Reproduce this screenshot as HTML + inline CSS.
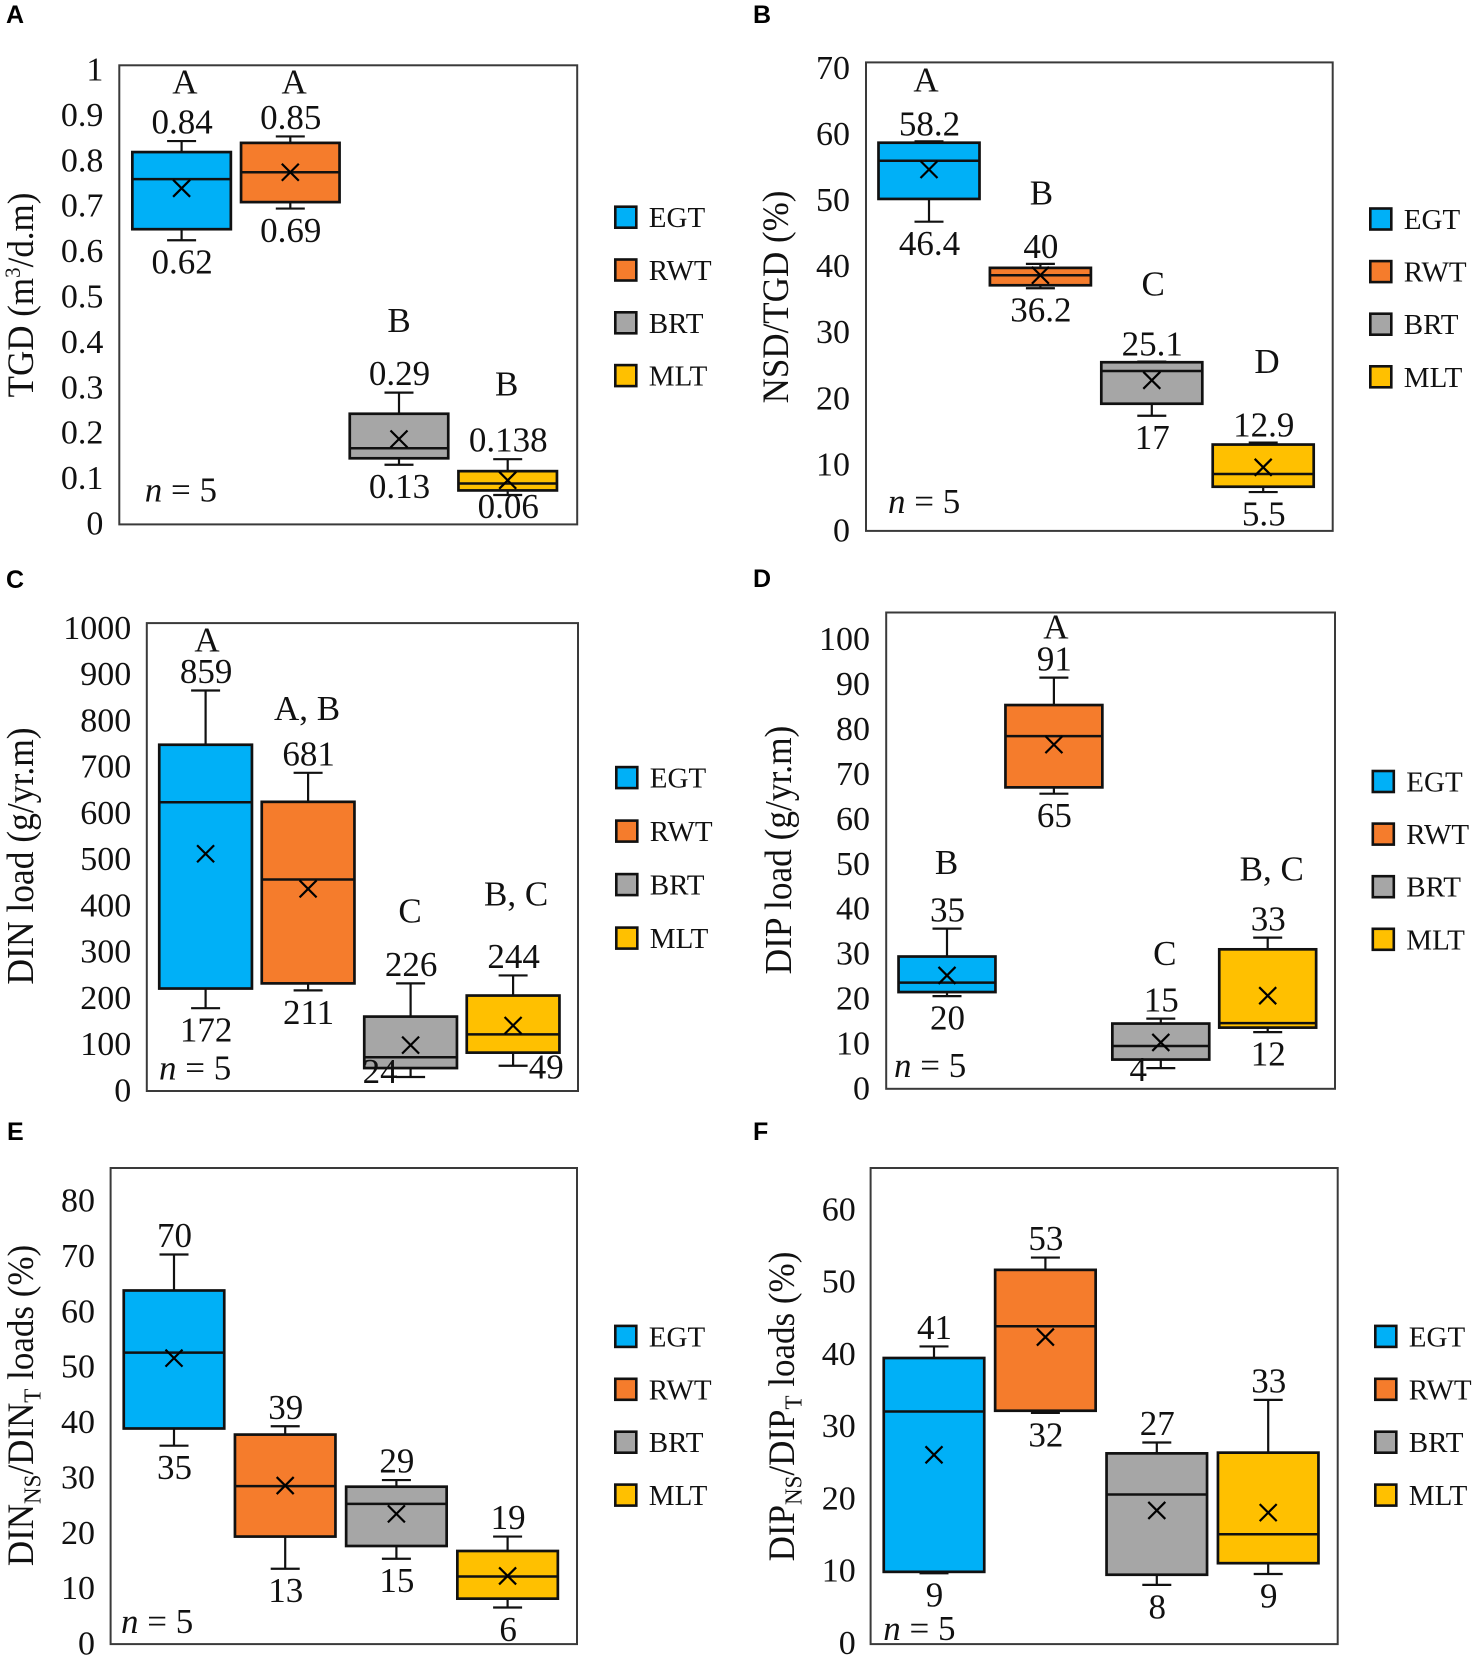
<!DOCTYPE html>
<html lang="en">
<head>
<meta charset="utf-8">
<title>Box plots of TGD, NSD/TGD, DIN and DIP loads</title>
<style>
html,body{margin:0;padding:0;background:#fff;width:1476px;height:1661px;overflow:hidden}
svg{display:block}
text{font-family:"Liberation Serif",serif;fill:#111}
.panel-letter{font-family:"Liberation Sans",sans-serif;font-weight:700;font-size:25px;fill:#000}
</style>
</head>
<body>
<svg id="figure" width="1476" height="1661" viewBox="0 0 1476 1661" xmlns="http://www.w3.org/2000/svg">
  <rect x="0" y="0" width="1476" height="1661" fill="#fff"/>
  <g id="panel-a">
    <text class="panel-letter" x="6" y="23">A</text>
    <text transform="translate(33,295) rotate(-90) scale(1,1.07)" text-anchor="middle" font-size="35">TGD (m<tspan font-size="21" dy="-12">3</tspan><tspan dy="12">/d.m)</tspan></text>
  </g>
  <g id="panel-b">
    <text class="panel-letter" x="753" y="23">B</text>
    <text transform="translate(788,297) rotate(-90) scale(1,1.07)" text-anchor="middle" font-size="35">NSD/TGD (%)</text>
  </g>
  <g id="panel-c">
    <text class="panel-letter" x="6" y="588">C</text>
    <text transform="translate(33,856) rotate(-90) scale(1,1.07)" text-anchor="middle" font-size="35.5">DIN load (g/yr.m)</text>
  </g>
  <g id="panel-d">
    <text class="panel-letter" x="753" y="587">D</text>
    <text transform="translate(791,850) rotate(-90) scale(1,1.07)" text-anchor="middle" font-size="35.3">DIP load (g/yr.m)</text>
  </g>
  <g id="panel-e">
    <text class="panel-letter" x="7" y="1140">E</text>
    <text transform="translate(33,1405.5) rotate(-90) scale(1,1.07)" text-anchor="middle" font-size="35">DIN<tspan font-size="23" dy="7">NS</tspan><tspan dy="-7">/DIN</tspan><tspan font-size="23" dy="7">T</tspan><tspan dy="-7"> loads (%)</tspan></text>
  </g>
  <g id="panel-f">
    <text class="panel-letter" x="753" y="1140">F</text>
    <text transform="translate(794,1406.5) rotate(-90) scale(1,1.07)" text-anchor="middle" font-size="35">DIP<tspan font-size="23" dy="7">NS</tspan><tspan dy="-7">/DIP</tspan><tspan font-size="23" dy="7">T</tspan><tspan dy="-7"> loads (%)</tspan></text>
  </g>
</svg>
<script>
const categories = ['EGT', 'RWT', 'BRT', 'MLT'];

// Panel A: TGD
const aTicks = ['0', '0.1', '0.2', '0.3', '0.4', '0.5', '0.6', '0.7', '0.8', '0.9', '1'];
const aTickValues = [0, 0.1, 0.2, 0.3, 0.4, 0.5, 0.6, 0.7, 0.8, 0.9, 1];
const aHigh = [0.835, 0.845, 0.287, 0.142];
const aQ3 = [0.811, 0.831, 0.241, 0.116];
const aMedian = [0.752, 0.767, 0.166, 0.089];
const aMean = [0.732, 0.767, 0.186, 0.096];
const aQ1 = [0.643, 0.702, 0.144, 0.074];
const aLow = [0.619, 0.688, 0.130, 0.064];
const aHighLabels = ['0.84', '0.85', '0.29', '0.138'];
const aLowLabels = ['0.62', '0.69', '0.13', '0.06'];
const aLetters = ['A', 'A', 'B', 'B'];
const aLetterLevels = [0.963, 0.963, 0.443, 0.305];

// Panel B: NSD/TGD
const bTicks = ['0', '10', '20', '30', '40', '50', '60', '70'];
const bTickValues = [0, 10, 20, 30, 40, 50, 60, 70];
const bHigh = [58.2, 39.9, 25.3, 13.2];
const bQ3 = [58.0, 39.3, 25.2, 12.9];
const bMedian = [55.3, 38.2, 23.9, 8.5];
const bMean = [54.0, 38.2, 22.5, 9.5];
const bQ1 = [49.6, 36.7, 19.0, 6.6];
const bLow = [46.2, 36.25, 17.2, 5.8];
const bHighLabels = ['58.2', '40', '25.1', '12.9'];
const bLowLabels = ['46.4', '36.2', '17', '5.5'];
const bLetters = ['A', 'B', 'C', 'D'];
const bLetterLevels = [67.3, 50.4, 36.8, 25.2];

// Panel C: DIN load
const cTicks = ['0', '100', '200', '300', '400', '500', '600', '700', '800', '900', '1000'];
const cTickValues = [0, 100, 200, 300, 400, 500, 600, 700, 800, 900, 1000];
const cHigh = [856, 680, 230, 247];
const cQ3 = [740, 618, 159, 204];
const cMedian = [617, 452, 72, 121];
const cMean = [507, 432, 98, 140];
const cQ1 = [219, 230, 49, 82];
const cLow = [177, 215, 30, 54];
const cHighLabels = ['859', '681', '226', '244'];
const cLowLabels = ['172', '211', '24', '49'];
const cLetters = ['A', 'A, B', 'C', 'B, C'];
const cLetterLevels = [963, 816, 384, 420];

// Panel D: DIP load
const dTicks = ['0', '10', '20', '30', '40', '50', '60', '70', '80', '90', '100'];
const dTickValues = [0, 10, 20, 30, 40, 50, 60, 70, 80, 90, 100];
const dHigh = [35.6, 91.4, 15.6, 33.6];
const dQ3 = [29.4, 85.3, 14.5, 31.0];
const dMedian = [23.6, 78.4, 9.5, 14.6];
const dMean = [25.2, 76.5, 10.3, 20.7];
const dQ1 = [21.5, 67.0, 6.5, 13.6];
const dLow = [20.6, 65.6, 4.6, 12.6];
const dHighLabels = ['35', '91', '15', '33'];
const dLowLabels = ['20', '65', '4', '12'];
const dLetters = ['B', 'A', 'C', 'B, C'];
const dLetterLevels = [50.2, 102.5, 30, 48.7];

// Panel E: DIN NS / DIN T loads
const eTicks = ['0', '10', '20', '30', '40', '50', '60', '70', '80'];
const eTickValues = [0, 10, 20, 30, 40, 50, 60, 70, 80];
const eHigh = [70.3, 39.3, 29.6, 19.4];
const eQ3 = [63.8, 37.8, 28.4, 16.8];
const eMedian = [52.6, 28.5, 25.3, 12.2];
const eMean = [51.6, 28.6, 23.5, 12.3];
const eQ1 = [38.9, 19.4, 17.7, 8.2];
const eLow = [35.8, 13.6, 15.4, 6.6];
const eHighLabels = ['70', '39', '29', '19'];
const eLowLabels = ['35', '13', '15', '6'];
const eLetters = [];
const eLetterLevels = [];

// Panel F: DIP NS / DIP T loads
const fTicks = ['0', '10', '20', '30', '40', '50', '60'];
const fTickValues = [0, 10, 20, 30, 40, 50, 60];
const fHigh = [41.2, 53.5, 27.9, 33.8];
const fQ3 = [39.6, 51.8, 26.4, 26.5];
const fMedian = [32.2, 44.0, 20.7, 15.2];
const fMean = [26.2, 42.5, 18.5, 18.2];
const fQ1 = [10.0, 32.3, 9.6, 11.2];
const fLow = [9.8, 32.0, 8.2, 9.7];
const fHighLabels = ['41', '53', '27', '33'];
const fLowLabels = ['9', '32', '8', '9'];
const fLetters = [];
const fLetterLevels = [];

const fills = {EGT: '#00B0F7', RWT: '#F57C2C', BRT: '#A6A6A6', MLT: '#FFC000'};
const NS = 'http://www.w3.org/2000/svg';
const INK = '#111111';

function shape(tag, parent, props) {
  const el = document.createElementNS(NS, tag);
  for (const k in props) el.setAttribute(k, props[k]);
  parent.appendChild(el);
  return el;
}

function drawPanel(p) {
  const root = document.getElementById('panel-' + p.id);
  const yScale = v => p.bottom - (v / p.yMax) * (p.bottom - p.top);
  const xScale = i => p.firstCenter + i * p.step;
  const tickMax = p.tickValues[p.tickValues.length - 1];
  const tickY = v => p.tickY0 - (v / tickMax) * (p.tickY0 - p.tickYTop);

  const frame = shape('rect', root, {x: p.left, y: p.top, width: p.right - p.left, height: p.bottom - p.top, fill: '#fff', stroke: '#3a3a3a', 'stroke-width': 2});
  
  

  p.tickValues.forEach((v, i) => {
    const t = shape('text', root, {x: p.tickRight, y: tickY(v) + 11, 'text-anchor': 'end', 'font-size': 34});
    t.textContent = p.ticks[i];
    
    
  });

  categories.forEach((cat, i) => {
    const g = shape('g', root, {});
    
    
    const cx = xScale(i);
    const half = p.boxWidth / 2;

    const upper = shape('line', g, {x1: cx, x2: cx, y1: yScale(p.high[i]), y2: yScale(p.q3[i]), stroke: INK, 'stroke-width': 2.2});
    
    

    const upperCap = shape('line', g, {x1: cx - 14.5, x2: cx + 14.5, y1: yScale(p.high[i]), y2: yScale(p.high[i]), stroke: INK, 'stroke-width': 2.2});
    
    

    const lower = shape('line', g, {x1: cx, x2: cx, y1: yScale(p.q1[i]), y2: yScale(p.low[i]), stroke: INK, 'stroke-width': 2.2});
    
    

    const lowerCap = shape('line', g, {x1: cx - 14.5, x2: cx + 14.5, y1: yScale(p.low[i]), y2: yScale(p.low[i]), stroke: INK, 'stroke-width': 2.2});
    
    

    const box = shape('rect', g, {x: cx - half, y: yScale(p.q3[i]), width: p.boxWidth, height: yScale(p.q1[i]) - yScale(p.q3[i]), fill: fills[cat], stroke: INK, 'stroke-width': 2.7});
    
    

    const med = shape('line', g, {x1: cx - half, x2: cx + half, y1: yScale(p.median[i]), y2: yScale(p.median[i]), stroke: INK, 'stroke-width': 2.5});
    
    

    const my = yScale(p.mean[i]);
    const mean = shape('path', g, {d: 'M' + (cx - 8.5) + ' ' + (my - 8.5) + 'L' + (cx + 8.5) + ' ' + (my + 8.5) + 'M' + (cx + 8.5) + ' ' + (my - 8.5) + 'L' + (cx - 8.5) + ' ' + (my + 8.5), stroke: '#000', 'stroke-width': 2.2, fill: 'none'});
    
    
  });

  categories.forEach((cat, i) => {
    const cx = xScale(i);
    const hi = shape('text', root, {x: cx + 0.5, y: yScale(p.high[i]) - p.highGap + 11, 'text-anchor': 'middle', 'font-size': 35});
    hi.textContent = p.highLabels[i];
    
    

    const nudge = (p.lowNudge && p.lowNudge[i]) || [0, 0];
    const lo = shape('text', root, {x: cx + 0.5 + nudge[0], y: yScale(p.low[i]) + 22.4 + nudge[1] + 11, 'text-anchor': 'middle', 'font-size': 35});
    lo.textContent = p.lowLabels[i];
    
    

    if (p.letters.length) {
      const sig = shape('text', root, {x: cx + p.letterDx[i], y: yScale(p.letterLevels[i]) + 11, 'text-anchor': 'middle', 'font-size': 35});
      sig.textContent = p.letters[i];
      
      
    }

    const ly = p.legendY + i * p.legendStep;
    const sw = shape('rect', root, {x: p.legendX, y: ly - 10.5, width: 21, height: 21, fill: fills[cat], stroke: INK, 'stroke-width': 2.6});
    
    

    const lt = shape('text', root, {x: p.legendX + 33.5, y: ly + 10, 'font-size': 29});
    lt.textContent = cat;
    
    
  });

  const nLabel = shape('text', root, {x: p.nX, y: p.nY + 11, 'font-size': 35});
  const nItalic = shape('tspan', nLabel, {'font-style': 'italic'});
  nItalic.textContent = 'n';
  nLabel.appendChild(document.createTextNode(' = 5'));
  
  
}

drawPanel({id: 'a', left: 119.3, right: 577.2, top: 65.3, bottom: 524.4, yMax: 1,
  firstCenter: 181.6, step: 108.7, boxWidth: 98.5, tickRight: 103.4, tickY0: 523.4, tickYTop: 69.6,
  legendX: 615.3, legendY: 217.2, legendStep: 52.8, nX: 144.8, nY: 490.5, highGap: 18.5,
  letterDx: [3.3, 3.8, 0, -1], lowNudge: {3: [0, -10.6]},
  ticks: aTicks, tickValues: aTickValues, high: aHigh, q3: aQ3, median: aMedian, mean: aMean, q1: aQ1, low: aLow,
  highLabels: aHighLabels, lowLabels: aLowLabels, letters: aLetters, letterLevels: aLetterLevels});

drawPanel({id: 'b', left: 866, right: 1332.7, top: 62.4, bottom: 530.9, yMax: 70,
  firstCenter: 929, step: 111.4, boxWidth: 101, tickRight: 850, tickY0: 530.5, tickYTop: 67.8,
  legendX: 1370.3, legendY: 219, legendStep: 52.6, nX: 888, nY: 502, highGap: 17,
  letterDx: [-3, 1, 1.4, 3.8], lowNudge: {},
  ticks: bTicks, tickValues: bTickValues, high: bHigh, q3: bQ3, median: bMedian, mean: bMean, q1: bQ1, low: bLow,
  highLabels: bHighLabels, lowLabels: bLowLabels, letters: bLetters, letterLevels: bLetterLevels});

drawPanel({id: 'c', left: 146.8, right: 578, top: 623.1, bottom: 1091, yMax: 1000,
  firstCenter: 205.6, step: 102.5, boxWidth: 92.7, tickRight: 131.3, tickY0: 1090.5, tickYTop: 627.8,
  legendX: 616.3, legendY: 777.6, legendStep: 53.5, nX: 159, nY: 1068.5, highGap: 18.5,
  letterDx: [1.4, -1, -0.5, 3], lowNudge: {2: [-31, -27.4], 3: [32.6, -20.6]},
  ticks: cTicks, tickValues: cTickValues, high: cHigh, q3: cQ3, median: cMedian, mean: cMean, q1: cQ1, low: cLow,
  highLabels: cHighLabels, lowLabels: cLowLabels, letters: cLetters, letterLevels: cLetterLevels});

drawPanel({id: 'd', left: 886.2, right: 1335, top: 612.5, bottom: 1088.8, yMax: 105.87,
  firstCenter: 947, step: 106.9, boxWidth: 96.9, tickRight: 870, tickY0: 1088.4, tickYTop: 639.1,
  legendX: 1372.8, legendY: 781.5, legendStep: 52.6, nX: 894, nY: 1065.8, highGap: 18,
  letterDx: [-0.5, 2, 4, 4], lowNudge: {2: [-23, -20.6]},
  ticks: dTicks, tickValues: dTickValues, high: dHigh, q3: dQ3, median: dMedian, mean: dMean, q1: dQ1, low: dLow,
  highLabels: dHighLabels, lowLabels: dLowLabels, letters: dLetters, letterLevels: dLetterLevels});

drawPanel({id: 'e', left: 110.6, right: 577, top: 1168, bottom: 1644.1, yMax: 85.9,
  firstCenter: 174, step: 111.2, boxWidth: 100.5, tickRight: 95, tickY0: 1643.5, tickYTop: 1200.5,
  legendX: 615.3, legendY: 1336.4, legendStep: 52.9, nX: 121, nY: 1622, highGap: 18.5,
  letterDx: [], lowNudge: {},
  ticks: eTicks, tickValues: eTickValues, high: eHigh, q3: eQ3, median: eMedian, mean: eMean, q1: eQ1, low: eLow,
  highLabels: eHighLabels, lowLabels: eLowLabels, letters: eLetters, letterLevels: eLetterLevels});

drawPanel({id: 'f', left: 870.6, right: 1337.7, top: 1168, bottom: 1644.1, yMax: 65.9,
  firstCenter: 934, step: 111.4, boxWidth: 100.5, tickRight: 855.8, tickY0: 1643, tickYTop: 1209.4,
  legendX: 1375.3, legendY: 1336.4, legendStep: 52.9, nX: 883.3, nY: 1629, highGap: 18.5,
  letterDx: [], lowNudge: {},
  ticks: fTicks, tickValues: fTickValues, high: fHigh, q3: fQ3, median: fMedian, mean: fMean, q1: fQ1, low: fLow,
  highLabels: fHighLabels, lowLabels: fLowLabels, letters: fLetters, letterLevels: fLetterLevels});
</script>
</body>
</html>
